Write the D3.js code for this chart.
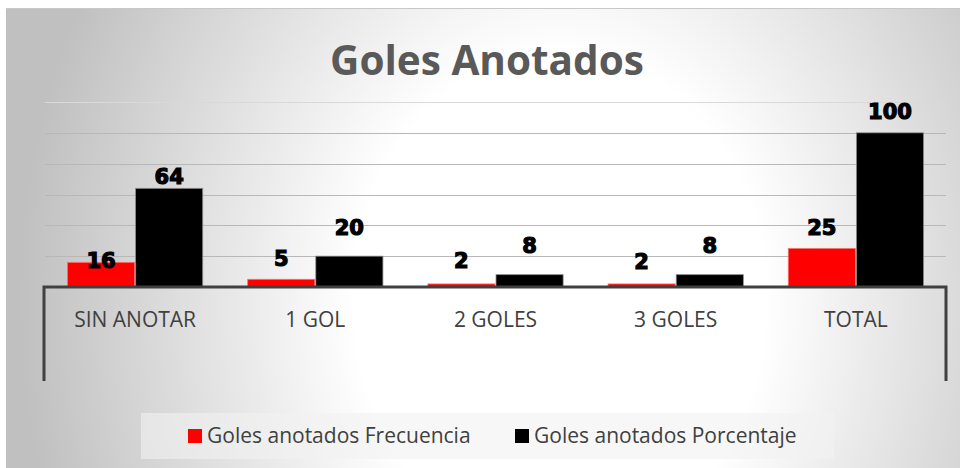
<!DOCTYPE html>
<html>
<head>
<meta charset="utf-8">
<script src="https://cdn.jsdelivr.net/npm/d3@7"></script>
<style>
  html, body { margin: 0; padding: 0; background: #fff; }
  svg { display: block; }
</style>
</head>
<body>
<div id="chart"></div>
<script>
// ---- Data ----
const categories = ['SIN ANOTAR', '1 GOL', '2 GOLES', '3 GOLES', 'TOTAL'];
const frecuencia = [16, 5, 2, 2, 25];
const porcentaje = [64, 20, 8, 8, 100];
const seriesNames = ['Goles anotados Frecuencia', 'Goles anotados Porcentaje'];
const yTicks = [20, 40, 60, 80, 100, 120];

// label nudges (px above bar top), hand-placed in the original
const liftFrecuencia = [-6, 13, 16, 15, 13];
const liftPorcentaje = [4, 21, 22, 22, 14];

// ---- Layout ----
const width = 960, height = 468;
const plot = { left: 45, right: 946, top: 102, bottom: 287 };
const colors = ['#ff0000', '#000000'];

const svg = d3.select('#chart').append('svg')
  .attr('width', width)
  .attr('height', height);

const defs = svg.append('defs');
const bg = defs.append('radialGradient')
  .attr('id', 'bg-grad')
  .attr('gradientUnits', 'userSpaceOnUse')
  .attr('cx', 560).attr('cy', 300)
  .attr('r', 540)
  .attr('gradientTransform', 'translate(0,300) scale(1,1.2) translate(0,-300)');
bg.append('stop').attr('offset', '0%').attr('stop-color', '#ffffff');
bg.append('stop').attr('offset', '38%').attr('stop-color', '#ffffff');
bg.append('stop').attr('offset', '100%').attr('stop-color', '#c0c0c0');

// chart area
svg.append('rect')
  .attr('x', 6).attr('y', 8)
  .attr('width', width - 6).attr('height', height - 8)
  .attr('fill', 'url(#bg-grad)');
svg.append('line')
  .attr('x1', 6).attr('x2', width)
  .attr('y1', 8.5).attr('y2', 8.5)
  .attr('stroke', '#c8c8c8').attr('stroke-width', 1);

// ---- Scales ----
const x0 = d3.scaleBand()
  .domain(categories)
  .range([plot.left, plot.right])
  .padding(0);

const x1 = d3.scaleBand()
  .domain(seriesNames)
  .range([0, x0.bandwidth()])
  .paddingInner(0.015)
  .paddingOuter(0.33);

const y = d3.scaleLinear()
  .domain([0, 120])
  .range([plot.bottom, plot.top]);

// ---- Gridlines ----
svg.append('g')
  .selectAll('line')
  .data(yTicks)
  .join('line')
  .attr('x1', plot.left).attr('x2', plot.right)
  .attr('y1', d => Math.round(y(d)) + 0.5)
  .attr('y2', d => Math.round(y(d)) + 0.5)
  .attr('stroke', d => d === 120 ? '#d9d9d9' : '#b8b8b8')
  .attr('stroke-width', 1);

// ---- Title ----
svg.append('text')
  .attr('x', 487).attr('y', 75)
  .attr('text-anchor', 'middle')
  .attr('font-family', '"Open Sans", sans-serif')
  .attr('font-weight', 700)
  .attr('font-size', 40.5)
  .attr('fill', '#595959')
  .text('Goles Anotados');

// ---- Bars ----
const rows = categories.map((c, i) => ({
  cat: c,
  vals: [
    { s: seriesNames[0], v: frecuencia[i], lift: liftFrecuencia[i], color: colors[0], edge: '#ff7070' },
    { s: seriesNames[1], v: porcentaje[i], lift: liftPorcentaje[i], color: colors[1], edge: '#8a8a8a' },
  ],
}));

const groups = svg.append('g')
  .selectAll('g')
  .data(rows)
  .join('g')
  .attr('transform', d => `translate(${x0(d.cat)},0)`);

groups.selectAll('rect')
  .data(d => d.vals)
  .join('rect')
  .attr('x', d => x1(d.s))
  .attr('y', d => y(d.v))
  .attr('width', x1.bandwidth())
  .attr('height', d => y(0) - y(d.v))
  .attr('fill', d => d.color)
  .attr('stroke', d => d.edge)
  .attr('stroke-width', 0.8);

groups.selectAll('text')
  .data(d => d.vals)
  .join('text')
  .attr('x', d => x1(d.s) + x1.bandwidth() / 2)
  .attr('y', d => y(d.v) - d.lift)
  .attr('text-anchor', 'middle')
  .attr('font-family', '"DejaVu Sans", sans-serif')
  .attr('font-weight', 700)
  .attr('font-size', 21)
  .attr('fill', '#000')
  .attr('stroke', '#000')
  .attr('stroke-width', 1.2)
  .text(d => d.v);

// ---- Category axis ----
const axisColor = '#404040';
const axisBottom = 381;
svg.append('path')
  .attr('d', `M${plot.left - 1},${axisBottom}V${plot.bottom}H${plot.right}V${axisBottom}`)
  .attr('fill', 'none')
  .attr('stroke', axisColor)
  .attr('stroke-width', 3);

svg.append('g')
  .selectAll('text')
  .data(categories)
  .join('text')
  .attr('x', d => x0(d) + x0.bandwidth() / 2)
  .attr('y', 327)
  .attr('text-anchor', 'middle')
  .attr('font-family', '"Open Sans", sans-serif')
  .attr('font-size', 21)
  .attr('fill', axisColor)
  .text(d => d);

// ---- Legend ----
const legend = svg.append('g');
legend.append('rect')
  .attr('x', 141).attr('y', 413)
  .attr('width', 693).attr('height', 46)
  .attr('fill', '#f2f2f2')
  .attr('opacity', 0.6);

const legendX = [188, 515];
const items = legend.selectAll('g')
  .data(seriesNames)
  .join('g')
  .attr('transform', (d, i) => `translate(${legendX[i]},429)`);

items.append('rect')
  .attr('width', 14).attr('height', 14)
  .attr('fill', (d, i) => colors[i]);

items.append('text')
  .attr('x', 19).attr('y', 14)
  .attr('font-family', '"Open Sans", sans-serif')
  .attr('font-size', 21)
  .attr('fill', axisColor)
  .text(d => d);
</script>
</body>
</html>
